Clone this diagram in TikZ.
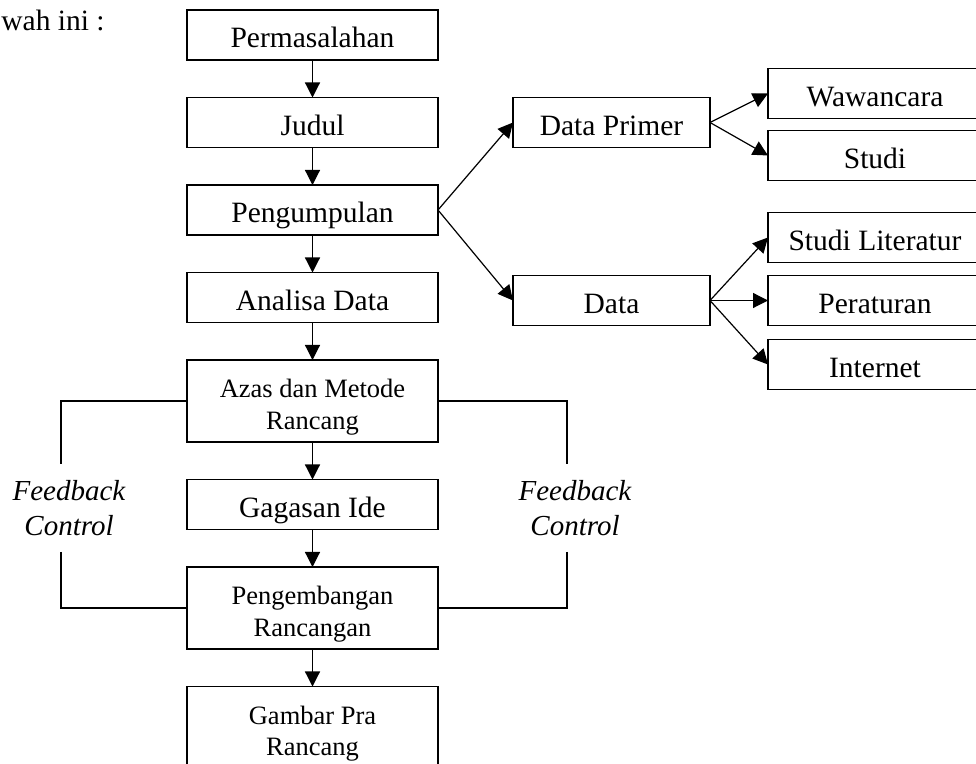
\documentclass[tikz,border=0pt]{standalone}
\usepackage{fontspec}
\setmainfont{Liberation Serif}
\usetikzlibrary{positioning,arrows.meta}

\begin{document}
\begin{tikzpicture}[x=0.5pt, y=-0.5pt, node distance={18.75pt}, >={Triangle[length=7.5pt,width=7.5pt]},
  box/.style = {draw, line width=0.8pt, minimum width=125.5pt, inner sep=0pt, outer sep=0pt},
  main/.style = {box, minimum height=25pt, font=\fontsize{14.75}{17}\selectfont, text height=13.5pt, text depth=0.5pt},
  twin/.style = {box, minimum height=41pt, align=center, font=\fontsize{13.25}{16}\selectfont, text height=28.5pt, text depth=0pt},
  mid/.style = {main, minimum width=98.5pt},
  side/.style = {main, minimum width=107pt},
  fb/.style = {inner sep=0pt, outer sep=0pt, minimum height=44pt, align=center, font=\fontsize{14.5}{17.5}\selectfont\itshape}]
\useasboundingbox (0,0) rectangle (976,764);
\node (0) [anchor=base west, inner sep=0pt, font=\fontsize{14.75}{17}\selectfont] at (1,31) {wah ini :};
\node[main] (1) at (312.5,35) {Permasalahan};
\node[main] (2) [below=of 1] {Judul};
\node[main] (3) [below=of 2] {Pengumpulan};
\node[main] (4) [below=of 3] {Analisa Data};
\node[twin] (5) [below=of 4] {Azas dan Metode\\Rancang};
\node[main] (6) [below=of 5] {Gagasan Ide};
\node[twin] (7) [below=of 6] {Pengembangan\\Rancangan};
\node[twin] (8) [below=of 7] {Gambar Pra\\Rancang};
\node[mid] (9) [right=37.5pt of 2] {Data Primer};
\node[mid] (10) [right=37.5pt of 4, yshift=-1.5pt] {Data};
\node[side] (11) [above right=-10.5pt and 29pt of 9] {Wawancara};
\node[side] (12) [below=6pt of 11] {Studi};
\node[side] (14) [right=29pt of 10] {Peraturan};
\node[side] (13) [above=6.5pt of 14] {Studi Literatur};
\node[side] (15) [below=7pt of 14] {Internet};
\node[fb] (16) at (69,508) {Feedback\\Control};
\node[fb] (17) at (575,508) {Feedback\\Control};
\draw[->,semithick] (1) -- (2);
\draw[->,semithick] (2) -- (3);
\draw[->,semithick] (3) -- (4);
\draw[->,semithick] (4) -- (5);
\draw[->,semithick] (5) -- (6);
\draw[->,semithick] (6) -- (7);
\draw[->,semithick] (7) -- (8);
\draw[->,semithick] (3.east) -- (9.west);
\draw[->,semithick] (3.east) -- (10.west);
\draw[->,semithick] (9.east) -- (11.west);
\draw[->,semithick] (9.east) -- (12.west);
\draw[->,semithick] (10.east) -- (13.west);
\draw[->,semithick] (10.east) -- (14.west);
\draw[->,semithick] (10.east) -- (15.west);
\draw[semithick] (5.west) -| ([xshift=-4pt]16.north);
\draw[semithick] ([xshift=-4pt]16.south) |- (7.west);
\draw[semithick] (5.east) -| ([xshift=-4pt]17.north);
\draw[semithick] ([xshift=-4pt]17.south) |- (7.east);
\end{tikzpicture}
\end{document}
